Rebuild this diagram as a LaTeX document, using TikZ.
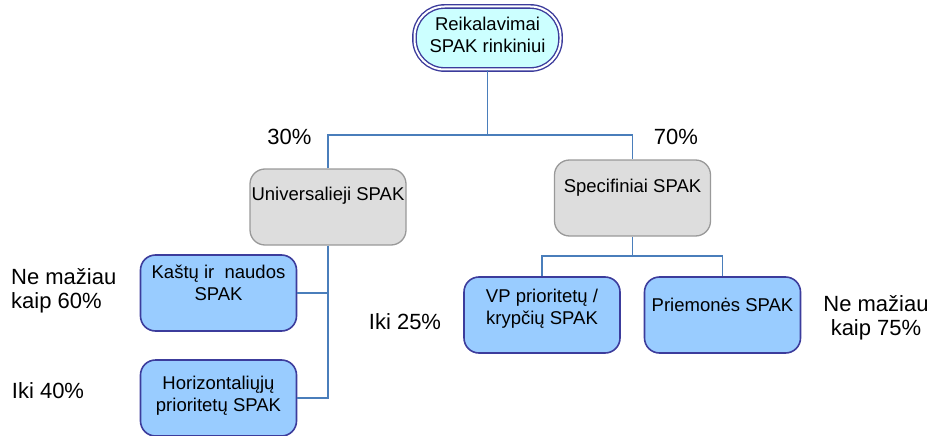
\documentclass[tikz,border=0pt]{standalone}
\usepackage{fontspec}
\setmainfont{Liberation Sans}
\usetikzlibrary{calc}
\definecolor{conn}{HTML}{4A7EBB}
\definecolor{navy}{HTML}{3C3C9C}
\definecolor{lblue}{HTML}{99CCFF}
\definecolor{lcyan}{HTML}{CCFFFF}
\definecolor{lgray}{HTML}{DDDDDD}
\definecolor{mgray}{HTML}{999999}
\begin{document}
\begin{tikzpicture}[x=1pt,y=-1pt,
  box/.style={rounded corners=15pt, minimum width=156pt, minimum height=76pt, inner sep=0pt},
  graybox/.style={box, draw=mgray, fill=lgray, line width=1.3pt},
  bluebox/.style={box, draw=navy, fill=lblue, line width=1.6pt},
  topbox/.style={rounded corners=30pt, minimum width=146pt, minimum height=63pt, inner sep=0pt, draw=navy, double=white, double distance=2pt, line width=1.4pt, fill=lcyan},
  btext/.style={align=center, font=\fontsize{18.5}{22}\selectfont, inner sep=0pt},
  ptext/.style={align=center, font=\fontsize{22}{24}\selectfont, inner sep=0pt},
  link/.style={draw=conn, line width=1.8pt}]
\useasboundingbox (0,0) rectangle (934,436);
% boxes
\node[topbox] (top) at (487.5,38) {};
\node[btext] (topt) at (487.5,35) {Reikalavimai\\SPAK rinkiniui};
\node[graybox] (univ) at (328,207) {};
\node[btext] (univt) at (328,196) {Universalieji SPAK};
\node[graybox] (spec) at (632.5,198) {};
\node[btext] (spect) at (632.5,188) {Specifiniai SPAK};
\node[bluebox] (kas) at (218.5,293) {};
\node[btext] (kast) at (218.5,283) {Kaštų ir~ naudos\\SPAK};
\node[bluebox] (hor) at (218.5,398) {};
\node[btext] (hort) at (218.5,396) {Horizontaliųjų\\prioritetų SPAK};
\node[bluebox] (vp) at (542,315) {};
\node[btext] (vpt) at (542,309) {VP prioritetų /\\krypčių SPAK};
\node[bluebox] (prie) at (722.5,315) {};
\node[btext] (priet) at (722.5,305) {Priemonės SPAK};
% connectors
\coordinate (j1) at ($(top.south)+(0,65)$);
\coordinate (j2) at ($(spec.south)+(0,19)$);
\draw[link] (top.south) -- (j1);
\draw[link] (univ.north) |- (j1) -| (spec.north);
\draw[link] (univ.south) |- (kas.east);
\draw[link] (univ.south) |- (hor.east);
\draw[link] (spec.south) -- (j2);
\draw[link] (vp.north) |- (j2) -| (prie.north);
% percentages
\node[ptext] (p30) at (289.5,137) {30\%};
\node[ptext] (p70) at (676,137) {70\%};
\node[ptext, align=left, anchor=west] (p60) at (11,291) {Ne mažiau\\kaip 60\%};
\node[ptext] (p40) at (48,391) {Iki 40\%};
\node[ptext] (p25) at (405,322) {Iki 25\%};
\node[ptext] (p75) at (876,318) {Ne mažiau\\kaip 75\%};
\end{tikzpicture}
\end{document}
